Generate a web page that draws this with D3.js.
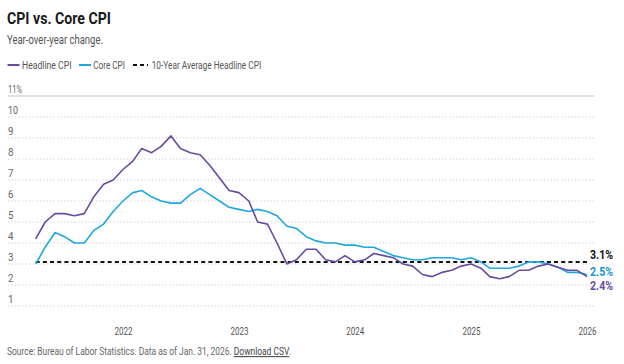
<!DOCTYPE html>
<html><head><meta charset="utf-8">
<script src="https://cdn.jsdelivr.net/npm/d3@7"></script>
<style>
html,body{margin:0;padding:0;background:#fff;}
svg{display:block;font-family:Roboto,"Liberation Sans",sans-serif;}
</style></head>
<body>
<svg id="chart" width="624" height="364"></svg>
<script>
// ---- data ----
const startMonth = "2021-04";
const headline = [4.2,5.0,5.4,5.4,5.3,5.4,6.2,6.8,7.0,
  7.5,7.9,8.5,8.3,8.6,9.1,8.5,8.3,8.2,7.7,7.1,6.5,
  6.4,6.0,5.0,4.9,4.0,3.0,3.2,3.7,3.7,3.2,3.1,3.4,
  3.1,3.2,3.5,3.4,3.3,3.0,2.9,2.5,2.4,2.6,2.7,2.9,
  3.0,2.8,2.4,2.3,2.4,2.7,2.7,2.9,3.0,2.85,2.7,2.7,
  2.4];
const core = [3.0,3.8,4.5,4.3,4.0,4.0,4.6,4.9,5.5,
  6.0,6.4,6.5,6.2,6.0,5.9,5.9,6.3,6.6,6.3,6.0,5.7,
  5.6,5.5,5.6,5.5,5.3,4.8,4.7,4.3,4.1,4.0,4.0,3.9,
  3.9,3.8,3.8,3.6,3.4,3.3,3.2,3.2,3.3,3.3,3.3,3.2,
  3.3,3.1,2.8,2.8,2.8,2.9,3.1,3.1,3.0,2.85,2.6,2.6,
  2.5];
const tenYearAvg = 3.1;
const yTicks = [1,2,3,4,5,6,7,8,9,10,11];
const xTickYears = [2022,2023,2024,2025,2026];
const endLabels = ["3.1%","2.5%","2.4%"];

const parse = d3.timeParse("%Y-%m");
const dates = headline.map((_, i) => d3.timeMonth.offset(parse(startMonth), i));

const svg = d3.select("#chart");
const x = d3.scaleTime().domain([new Date(2022,0,1), new Date(2026,0,1)]).range([123, 587]);
const y = d3.scaleLinear().domain([0, 11]).range([327, 96]);
const gridL = 8, gridR = 594;
const purple = "#6a4a9e", blue = "#1ea8e0";

function txt(s, xx, yy, size, opts={}) {
  const t = svg.append("text").attr("x", xx).attr("y", yy)
    .attr("font-size", size).attr("fill", opts.fill || "#555")
    .attr("font-weight", opts.weight || 400).text(s);
  if (opts.len) t.attr("textLength", opts.len).attr("lengthAdjust", "spacingAndGlyphs");
  if (opts.anchor) t.attr("text-anchor", opts.anchor);
  return t;
}

// title etc.
txt("CPI vs. Core CPI", 7, 23.5, 17, {fill:"#1a1a1a", weight:700, len:104});
txt("Year-over-year change.", 7, 43.5, 12, {fill:"#555", len:96});

// legend
svg.append("line").attr("x1",7.5).attr("x2",19.5).attr("y1",65).attr("y2",65).attr("stroke",purple).attr("stroke-width",2);
txt("Headline CPI", 22, 68.5, 10.5, {len:49.5});
svg.append("line").attr("x1",79).attr("x2",91).attr("y1",65).attr("y2",65).attr("stroke",blue).attr("stroke-width",2);
txt("Core CPI", 93.3, 68.5, 10.5, {len:31.7});
svg.append("line").attr("x1",133).attr("x2",148).attr("y1",65).attr("y2",65).attr("stroke","#111").attr("stroke-width",2).attr("stroke-dasharray","4,3");
txt("10-Year Average Headline CPI", 151.7, 68.5, 10.5, {len:109.5});

// gridlines
const yAxis = d3.axisLeft(y).tickValues(yTicks).tickSize(0).tickFormat(d => d === 11 ? "11%" : d);
const gy = svg.append("g");
gy.selectAll("line").data(yTicks).join("line")
  .attr("x1", gridL).attr("x2", gridR)
  .attr("y1", d => y(d)).attr("y2", d => y(d))
  .attr("stroke", d => d === 11 ? "#c4c4c4" : "#d4d4d4")
  .attr("stroke-width", 1.2)
  .attr("stroke-dasharray", d => d === 11 ? null : "1.5,2");
gy.selectAll("text").data(yTicks).join("text")
  .attr("x", 8).attr("y", d => y(d) - 3)
  .attr("font-size", 11).attr("fill", "#666")
  .attr("textLength", d => d === 11 ? 14 : (d === 10 ? 10 : 5.5))
  .attr("lengthAdjust", "spacingAndGlyphs")
  .text(d => yAxis.tickFormat()(d));

// x axis labels
const xAxis = d3.axisBottom(x).tickValues(xTickYears.map(v => new Date(v,0,1))).tickFormat(d3.timeFormat("%Y")).tickSize(0);
const gx = svg.append("g").attr("transform", "translate(0,335)");
gx.call(xAxis);
gx.select(".domain").remove();
gx.selectAll("text").attr("y", 0).attr("dy", 0).attr("font-size", 11).attr("fill", "#555")
  .attr("font-family", "Roboto,sans-serif")
  .attr("textLength", 18).attr("lengthAdjust", "spacingAndGlyphs");

// average line
svg.append("line")
  .attr("x1", x(dates[0])).attr("x2", x(dates[dates.length-1]))
  .attr("y1", y(tenYearAvg)).attr("y2", y(tenYearAvg))
  .attr("stroke", "#111").attr("stroke-width", 2).attr("stroke-dasharray", "4,3.2");

// series lines
const line = d3.line().x((d, i) => x(dates[i])).y(d => y(d));
svg.append("path").datum(core).attr("d", line).attr("fill", "none").attr("stroke", blue).attr("stroke-width", 1.6).attr("stroke-linejoin","round");
svg.append("path").datum(headline).attr("d", line).attr("fill", "none").attr("stroke", purple).attr("stroke-width", 1.6).attr("stroke-linejoin","round");

// end labels
txt(endLabels[0], 590, 258.5, 12, {fill:"#111", weight:700, len:23});
txt(endLabels[1], 590, 275.5, 12, {fill:"#1a93d0", weight:700, len:23});
txt(endLabels[2], 590, 290, 12, {fill:purple, weight:700, len:23});

// source: one text, horizontally condensed by a scale transform
const srcG = svg.append("g");
const src = srcG.append("text").attr("x", 0).attr("y", 0).attr("font-size", 10.5).attr("fill", "#666");
src.append("tspan").text("Source: Bureau of Labor Statistics. Data as of Jan. 31, 2026. ");
src.append("tspan").attr("text-decoration", "underline").attr("fill", "#444").text("Download CSV");
src.append("tspan").text(".");
const w = src.node().getComputedTextLength();
srcG.attr("transform", `translate(7,355) scale(${284 / w},1)`);
</script>
</body></html>
